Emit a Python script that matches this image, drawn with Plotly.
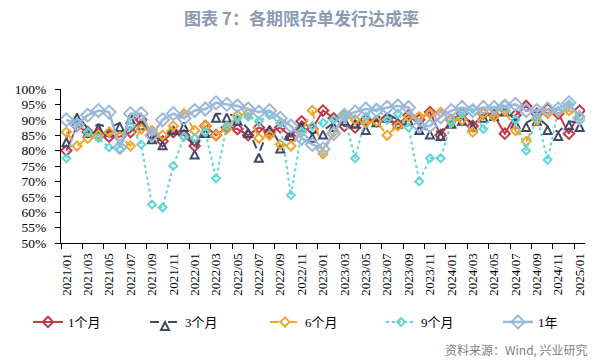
import plotly.graph_objects as go

months = [f"{y}/{m:02d}" for y in range(2021, 2026) for m in range(1, 13)][:49]

m1 = [80, 88, 86, 85.5, 84.5, 84.5, 86, 90, 85, 83, 86, 85,
      81.5, 88, 85, 87.5, 87, 85, 87.5, 86, 87.5, 84.5, 89.5, 87,
      93, 90.5, 88, 87.5, 90, 89.5, 90.5, 88.5, 91.5, 90, 92.5, 85,
      90, 92, 88, 92, 91.5, 85.5, 91.5, 94.5, 92, 93.5, 92, 85.5, 93]
m3 = [84, 92, 87, 88.5, 87.5, 89, 91.5, 89.5, 85, 83, 88, 89,
      80, 87, 92, 92, 91, 87, 79, 88, 82, 86, 89, 85.5,
      86.5, 89, 91, 90, 88, 90.5, 92, 90, 91, 88, 86.5, 86,
      90, 91, 89, 92, 92.5, 94, 90, 89, 91, 88, 86, 89.5, 89]
m6 = [86, 81.5, 84, 85, 86, 84.5, 81.5, 87, 86.5, 85, 88, 92,
      86.5, 88, 85, 87, 91.5, 92, 84, 85, 82, 81.5, 86, 93,
      79, 86, 91.5, 90, 89, 89.5, 85, 88, 91, 91, 92, 92.5,
      90, 90, 86, 92, 91, 93, 86.5, 83, 90, 92, 92.5, 93, 91]
m9 = [77.5, 89, 86, 84, 81, 80.5, 88, 82, 62.5, 61.5, 75, 84.5,
      84, 86, 71, 88, 90.5, 91, 89.5, 91.5, 89, 65.5, 86, 88,
      89, 90, 91, 77.5, 91, 94, 90, 92, 87.5, 70, 77.5, 77.5,
      89, 92, 93.5, 87, 93, 95, 90, 80, 91, 77, 93, 95, 91]
y1 = [90, 88.5, 91.5, 93, 92.5, 81, 92, 92, 85, 90, 92, 90.5,
      93, 93.5, 95.5, 95, 94.5, 93.5, 92.5, 93, 90.5, 88, 84, 82,
      80.5, 85.5, 91.5, 92.5, 93.5, 93, 94, 94.5, 94, 88, 88, 91,
      93, 94, 93, 94, 94, 94.5, 95, 93, 93, 93.5, 93.5, 95.5, 90.5]

yticks = [50, 55, 60, 65, 70, 75, 80, 85, 90, 95, 100]
names = ["1个月", "3个月", "6个月", "9个月", "1年"]

x = list(range(len(months)))
serif = "Liberation Serif, Times New Roman, Noto Sans CJK SC"

fig = go.Figure()
styles = [
    (m1, "#C0394A", "solid", "diamond-open", 8, 2),
    (m3, "#3E4A68", "dash", "arrow-up-open", 8, 2),
    (m6, "#F0A52E", "dash", "diamond-open", 7, 2),
    (m9, "#5FD6D8", "dot", "diamond-open", 6, 2),
    (y1, "#9AB8DA", "solid", "diamond-open", 10, 2.5),
]
legend_x = [28, 145, 265, 381, 498]
legend_layouts = {}
for k, ((vals, col, dash, sym, sz, lw), nm) in enumerate(zip(styles, names)):
    lname = "legend" if k == 0 else f"legend{k + 1}"
    fig.add_trace(go.Scatter(
        x=x, y=vals, name=nm, mode="lines+markers", legend=lname,
        line=dict(color=col, width=lw, dash=dash),
        marker=dict(symbol=sym, size=sz, color=col, line=dict(color=col, width=2)),
    ))
    legend_layouts[lname] = dict(
        orientation="h", xref="container", yref="container",
        x=legend_x[k] / 603, xanchor="left", y=1 - 322 / 361, yanchor="middle",
        font=dict(family=serif, size=13, color="#000000"),
        bgcolor="rgba(0,0,0,0)")

fig.update_layout(
    width=603, height=361,
    margin=dict(l=61, r=18, t=89, b=118, autoexpand=False),
    paper_bgcolor="white", plot_bgcolor="white",
    showlegend=True,
    annotations=[
        dict(text="<b>图表 7：各期限存单发行达成率</b>", xref="paper", yref="paper",
             x=(301 - 61) / 524, y=1 + (89 - 18) / 154, xanchor="center", yanchor="middle",
             showarrow=False, font=dict(family="Noto Sans CJK SC", size=17, color="#8A9BB2")),
        dict(text="资料来源：Wind, 兴业研究", xref="paper", yref="paper",
             x=(590 - 61) / 524, y=-(349 - 243) / 154, xanchor="right", yanchor="middle",
             showarrow=False, font=dict(family="Noto Sans CJK SC", size=12, color="#808080")),
    ],
    **legend_layouts,
)

fig.update_xaxes(
    range=[-0.5, 48.5], tickmode="array", tickvals=x[::2], ticktext=months[::2],
    tickangle=-90, ticks="", showgrid=False, zeroline=False,
    showline=True, linecolor="#000000", linewidth=1,
    tickfont=dict(family=serif, size=13, color="#000000"),
    ticklabelstandoff=4,
    minor=dict(tickmode="linear", tick0=-0.5, dtick=2, ticks="outside", ticklen=5,
               tickcolor="#000000", tickwidth=1, showgrid=False),
)
fig.update_yaxes(
    range=[50, 100], tickmode="array", tickvals=yticks, ticktext=[f"{v}%" for v in yticks],
    ticks="outside", ticklen=5, tickcolor="#000000", showgrid=False, zeroline=False,
    showline=True, linecolor="#000000", linewidth=1,
    tickfont=dict(family=serif, size=13.5, color="#000000"),
    ticklabelstandoff=6,
)

fig.write_html("out.html", config={"displayModeBar": False},
               post_script="document.body.style.margin='0px';")
